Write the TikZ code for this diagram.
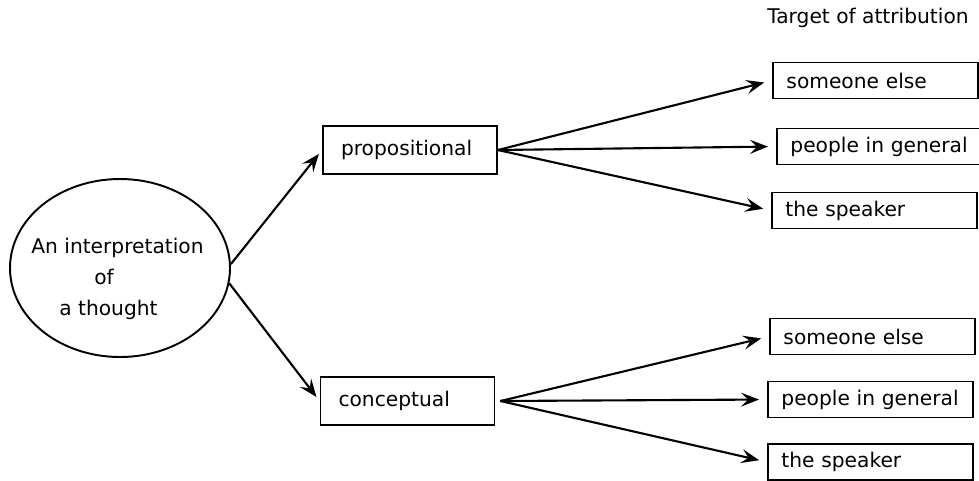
\documentclass[tikz,border=0pt]{standalone}
\usepackage{fontspec}
\setmainfont{DejaVu Sans}
\usetikzlibrary{arrows.meta,positioning,shapes.geometric}

\begin{document}
\begin{tikzpicture}[font=\fontsize{11.5}{14}\selectfont,
    kind/.style={draw,line width=1.1pt,minimum height=0.96cm,text width=2.76cm,inner xsep=0.36cm,align=left},
    target/.style={draw,line width=1.1pt,anchor=west,minimum height=0.72cm,text width=3.56cm,inner xsep=0.27cm,align=left},
    pointer/.style={line width=1.2pt,-{Stealth[length=3.6mm,width=2.8mm,inset=1.4mm]}}]
        \useasboundingbox (0,0) rectangle (19.58,-9.6);
        % left: the thought
        \node[draw,ellipse,line width=1.1pt,minimum width=4.4cm,minimum height=3.56cm] (thought) at (2.4,-5.36) {};
        \node[align=left,anchor=west,inner sep=0,font=\fontsize{11.5}{17.6}\selectfont] (thoughttext) at (0.62,-5.58)
          {An interpretation\\ \hspace*{1.26cm}of\\ \hspace*{0.56cm}a thought};
        % middle: two kinds
        \node[kind] (prop) at (8.2,-3.0) {propositional};
        \node[kind] (conc) at (8.15,-8.02) {conceptual};
        % right: targets
        \node (title) at (17.36,-0.36) {Target of attribution};
        \node[target] (else1) at (15.44,-1.61) {someone else};
        \node[target] (gen1) at (15.52,-2.93) {people in general};
        \node[target] (spk1) at (15.42,-4.21) {the speaker};
        \node[target] (else2) at (15.38,-6.73) {someone else};
        \node[target] (gen2) at (15.34,-7.99) {people in general};
        \node[target] (spk2) at (15.34,-9.24) {the speaker};
        % arrows
        \draw[pointer,shorten >=0.1cm] (thought.2) -- (prop.west);
        \draw[pointer,shorten >=0.1cm] (thought.-8) -- (conc.west);
        \foreach \t in {else1,gen1,spk1}
          \draw[pointer,shorten >=0.16cm] (prop.east) -- (\t.west);
        \foreach \t in {else2,gen2,spk2}
          \draw[pointer,shorten >=0.16cm] ([xshift=0.1cm]conc.east) -- (\t.west);
\end{tikzpicture}
\end{document}
